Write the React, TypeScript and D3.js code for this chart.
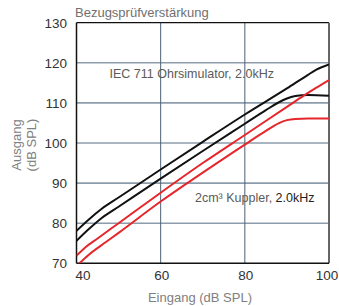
import React, { useEffect, useRef } from "react";
import * as d3 from "d3";

// input levels (dB SPL) and output values per curve
const iecUpperX = [40, 43, 46, 50, 60, 70, 80, 90, 95, 97, 100];
const iecUpperY = [78.1, 81.0, 83.6, 86.4, 93.4, 100.3, 107.1, 113.6, 117.0, 118.3, 119.6];

const iecLowerX = [40, 43, 46, 50, 60, 70, 80, 85, 88, 90, 92, 95, 100];
const iecLowerY = [75.6, 78.6, 81.3, 84.1, 91.1, 98.0, 104.8, 108.2, 110.1, 111.1, 111.7, 112.0, 111.8];

const cplUpperX = [40, 42, 45, 50, 60, 70, 80, 90, 94, 97, 100];
const cplUpperY = [71.9, 73.9, 76.2, 80.0, 87.6, 95.0, 102.0, 109.0, 111.8, 113.8, 115.7];

const cplLowerX = [40, 43, 47, 50, 60, 70, 80, 85, 88, 90, 92, 95, 100];
const cplLowerY = [69.3, 72.2, 75.3, 77.6, 85.4, 92.6, 99.6, 103.0, 104.9, 105.7, 106.0, 106.1, 106.1];

const xTicks = [40, 60, 80, 100];
const yTicks = [70, 80, 90, 100, 110, 120, 130];

const width = 339;
const height = 306;
const margin = { top: 22.7, right: 10, bottom: 42.7, left: 76.5 };

const font = "'Liberation Sans', Arial, sans-serif";

export default function App() {
  const ref = useRef<SVGSVGElement>(null);

  useEffect(() => {
    const svg = d3.select(ref.current);
    svg.selectAll("*").remove();

    const x = d3.scaleLinear().domain([40, 100]).range([margin.left, width - margin.right]);
    const y = d3.scaleLinear().domain([70, 130]).range([height - margin.bottom, margin.top]);
    const [x0, x1] = x.range();
    const [y0, y1] = y.range();

    svg
      .append("defs")
      .append("clipPath")
      .attr("id", "plot")
      .append("rect")
      .attr("x", x0)
      .attr("y", y1)
      .attr("width", x1 - x0)
      .attr("height", y0 - y1);

    // grid
    svg
      .append("g")
      .selectAll("line")
      .data(yTicks.filter((d) => d > 70 && d < 130))
      .join("line")
      .attr("x1", x0)
      .attr("x2", x1)
      .attr("y1", (d) => y(d))
      .attr("y2", (d) => y(d))
      .attr("stroke", "#8d9cab")
      .attr("stroke-width", 1.6);

    svg
      .append("g")
      .selectAll("line")
      .data(xTicks.filter((d) => d > 40 && d < 100))
      .join("line")
      .attr("x1", (d) => x(d))
      .attr("x2", (d) => x(d))
      .attr("y1", y1)
      .attr("y2", y0)
      .attr("stroke", "#4d6273")
      .attr("stroke-width", 1);

    // frame
    svg.append("line").attr("x1", x0).attr("x2", x1).attr("y1", y1).attr("y2", y1).attr("stroke", "#111").attr("stroke-width", 1.2);
    svg.append("line").attr("x1", x1).attr("x2", x1).attr("y1", y1).attr("y2", y0).attr("stroke", "#666").attr("stroke-width", 2);
    svg.append("line").attr("x1", x0).attr("x2", x0).attr("y1", y1).attr("y2", y0).attr("stroke", "#111").attr("stroke-width", 1.5);
    svg.append("line").attr("x1", x0).attr("x2", x1).attr("y1", y0).attr("y2", y0).attr("stroke", "#111").attr("stroke-width", 1.5);

    // curves
    const line = d3
      .line<[number, number]>()
      .x((d) => x(d[0]))
      .y((d) => y(d[1]))
      .curve(d3.curveMonotoneX);

    const series = [
      { xs: iecUpperX, ys: iecUpperY, color: "#111" },
      { xs: iecLowerX, ys: iecLowerY, color: "#111" },
      { xs: cplUpperX, ys: cplUpperY, color: "#e5262b" },
      { xs: cplLowerX, ys: cplLowerY, color: "#e5262b" },
    ];

    svg
      .append("g")
      .attr("clip-path", "url(#plot)")
      .selectAll("path")
      .data(series)
      .join("path")
      .attr("d", (s) => line(s.xs.map((v, i) => [v, s.ys[i]] as [number, number])))
      .attr("fill", "none")
      .attr("stroke", (s) => s.color)
      .attr("stroke-width", 2);

    // tick labels
    svg
      .append("g")
      .selectAll("text")
      .data(yTicks)
      .join("text")
      .attr("x", x0 - 9.5)
      .attr("y", (d) => y(d) + 5)
      .attr("text-anchor", "end")
      .attr("font-family", font)
      .attr("font-size", 13.5)
      .attr("fill", "#333")
      .text((d) => d);

    svg
      .append("g")
      .selectAll("text")
      .data(xTicks)
      .join("text")
      .attr("x", (d, i) => x(d) + (i === 0 ? 6.5 : i === xTicks.length - 1 ? -2 : 1))
      .attr("y", y0 + 16.5)
      .attr("text-anchor", "middle")
      .attr("font-family", font)
      .attr("font-size", 13.5)
      .attr("fill", "#333")
      .text((d) => d);

    // titles
    svg
      .append("text")
      .attr("x", 200)
      .attr("y", 302)
      .attr("text-anchor", "middle")
      .attr("font-family", font)
      .attr("font-size", 13)
      .attr("fill", "#808080")
      .text("Eingang (dB SPL)");

    svg
      .append("text")
      .attr("x", 75)
      .attr("y", 17)
      .attr("font-family", font)
      .attr("font-size", 13)
      .attr("fill", "#707070")
      .text("Bezugsprüfverstärkung");

    const yTitle = svg
      .append("text")
      .attr("transform", "translate(20.5,145) rotate(-90)")
      .attr("text-anchor", "middle")
      .attr("font-family", font)
      .attr("font-size", 13)
      .attr("fill", "#808080");
    yTitle.append("tspan").attr("x", 0).attr("y", 0).text("Ausgang");
    yTitle.append("tspan").attr("x", 0).attr("y", 15.5).text("(dB SPL)");

    // annotations
    svg
      .append("text")
      .attr("x", 109.5)
      .attr("y", 77.5)
      .attr("font-family", font)
      .attr("font-size", 12.5)
      .attr("fill", "#5a5a5a")
      .text("IEC 711 Ohrsimulator, 2.0kHz");

    const note = svg
      .append("text")
      .attr("x", 195)
      .attr("y", 202)
      .attr("font-family", font)
      .attr("font-size", 12.5)
      .attr("fill", "#5a5a5a");
    note.append("tspan").text("2cm³ Kuppler, ");
    note.append("tspan").attr("fill", "#222").text("2.0kHz");
  }, []);

  return (
    <svg
      ref={ref}
      width={width}
      height={height}
      style={{ position: "absolute", left: 0, top: 0, background: "#fff" }}
    />
  );
}
